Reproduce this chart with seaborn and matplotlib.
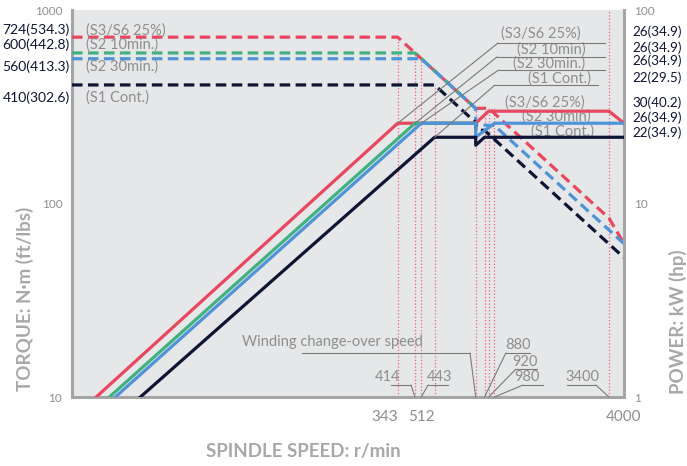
import pandas as pd
import matplotlib
matplotlib.use("Agg")
import matplotlib.pyplot as plt
from matplotlib.ticker import NullLocator
import seaborn as sns

# torque curves, N·m (dashed, left axis)
s3_speed_t = [10, 343, 800, 920, 3400, 4000]
s3_torque = [724, 724, 310, 311, 84, 62]
s2_10_speed_t = [10, 414, 800]
s2_10_torque = [600, 600, 310]
s2_30_speed_t = [10, 443, 800, 800, 980, 4000]
s2_30_torque = [560, 560, 310, 255, 253, 62]
s1_speed_t = [10, 512, 800, 800, 880, 4000]
s1_torque = [410, 410, 262, 239, 239, 52.5]

# power curves, kW (solid, right axis)
s3_speed_p = [13, 343, 800, 920, 3400, 4000]
s3_power = [1, 26, 26, 30, 30, 26]
s2_10_speed_p = [15, 414, 800]
s2_10_power = [1, 26, 26]
s2_30_speed_p = [16, 443, 800, 800, 980, 4000]
s2_30_power = [1, 26, 26, 22, 26, 26]
s1_speed_p = [21, 512, 800, 800, 880, 4000]
s1_power = [1, 22, 22, 20, 22, 22]

# red dotted guide lines
guide_speed = [343, 414, 443, 512, 800, 880, 920, 980, 3400]
guide_top = [724, 600, 560, 410, 310, 311, 311, 311, 1000]

left_labels = ['724(534.3)', '600(442.8)', '560(413.3)', '410(302.6)']
right_labels = ['26(34.9)', '26(34.9)', '26(34.9)', '22(29.5)', '30(40.2)', '26(34.9)', '22(34.9)']

RED = '#e8475e'
GREEN = '#3fb27f'
BLUE = '#4f93d8'
NAVY = '#0e1433'
GRAY_TXT = '#8e8e8e'
LINE_GRAY = '#7a7a7a'

plt.rcParams['font.family'] = ['Lato', 'DejaVu Sans']

fig, ax = plt.subplots(figsize=(6.87, 4.66), dpi=100)
fig.subplots_adjust(left=0.1048, right=0.9083, top=0.9785, bottom=0.148)
ax2 = ax.twinx()
ax.set_facecolor('#e6e7e8')

ax.vlines(guide_speed, 10, guide_top, colors='#f0607a', linestyles=':', linewidth=0.9, zorder=1)

dash = (0, (3.3, 1.7))
torque = [(s3_speed_t, s3_torque, RED), (s2_10_speed_t, s2_10_torque, GREEN),
          (s2_30_speed_t, s2_30_torque, BLUE), (s1_speed_t, s1_torque, NAVY)]
for sp, tq, c in torque:
    df = pd.DataFrame({'speed': sp, 'torque': tq})
    sns.lineplot(data=df, x='speed', y='torque', ax=ax, sort=False, estimator=None,
                 color=c, linewidth=2.3, linestyle=dash, zorder=3)

power = [(s3_speed_p, s3_power, RED), (s2_10_speed_p, s2_10_power, GREEN),
         (s2_30_speed_p, s2_30_power, BLUE), (s1_speed_p, s1_power, NAVY)]
for sp, pw, c in power:
    df = pd.DataFrame({'speed': sp, 'power': pw})
    sns.lineplot(data=df, x='speed', y='power', ax=ax2, sort=False, estimator=None,
                 color=c, linewidth=2.3, zorder=3)

ax.set_xscale('log')
ax.set_yscale('log')
ax2.set_yscale('log')
ax.set_xlim(10, 4000)
ax.set_ylim(10, 1000)
ax2.set_ylim(1, 100)

ax.set_xticks([343, 512, 4000])
ax.set_xticklabels(['343', '512', '4000'])
for lab, ha in zip(ax.get_xticklabels(), ['right', 'right', 'center']):
    lab.set_ha(ha)
ax.xaxis.set_minor_locator(NullLocator())
ax.set_yticks([10, 100, 1000])
ax.set_yticklabels(['10', '100', '1000'])
ax.yaxis.set_minor_locator(NullLocator())
ax2.set_yticks([1, 10, 100])
ax2.set_yticklabels(['1', '10', '100'])
ax2.yaxis.set_minor_locator(NullLocator())
ax.tick_params(axis='x', length=0, pad=9, labelsize=11, labelcolor=GRAY_TXT)
ax.tick_params(axis='y', length=0, pad=7, labelsize=8.5, labelcolor=GRAY_TXT)
ax2.tick_params(axis='y', length=0, pad=7, labelsize=8.5, labelcolor=GRAY_TXT)
ax.set_xlabel('')
ax.set_ylabel('')
ax2.set_ylabel('')

for a in (ax, ax2):
    a.spines['top'].set_visible(False)
    for s in ('left', 'bottom', 'right'):
        a.spines[s].set_color('#a5a5a5')
        a.spines[s].set_linewidth(2.2)
ax.spines['right'].set_visible(False)
ax2.spines['left'].set_visible(False)
ax2.spines['bottom'].set_visible(False)

# labels outside the axes
for lab, fy in zip(left_labels, [0.948, 0.910, 0.853, 0.773]):
    ax.text(-0.004, fy, lab, transform=ax.transAxes, ha='right', va='center',
            fontsize=10, color=NAVY)
for lab, fy in zip(right_labels, [0.943, 0.903, 0.868, 0.824, 0.760, 0.721, 0.682]):
    ax.text(1.0145, fy, lab, transform=ax.transAxes, ha='left', va='center',
            fontsize=9.7, color=NAVY)

# labels inside, left
for lab, fy in zip(['(S3/S6 25%)', '(S2 10min.)', '(S2 30min.)', '(S1 Cont.)'],
                   [0.948, 0.910, 0.853, 0.773]):
    ax.text(0.025, fy, lab, transform=ax.transAxes, ha='left', va='center',
            fontsize=10.5, color=GRAY_TXT)

# labels inside, lower right
for lab, fx, fy in zip(['(S3/S6 25%)', '(S2 30min)', '(S1 Cont.)'],
                       [0.857, 0.877, 0.888], [0.760, 0.724, 0.685]):
    ax.text(fx, fy, lab, transform=ax.transAxes, ha='center', va='center',
            fontsize=10.5, color=GRAY_TXT)


def callout(text, txy, x0, x1, yline, target, anchor_left=True, size=10.5):
    ax.text(txy[0], txy[1], text, transform=ax.transAxes, ha='center', va='center',
            fontsize=size, color=GRAY_TXT)
    ax2.plot([x0, x1], [yline, yline], transform=ax2.transAxes, color=LINE_GRAY,
             lw=0.8, clip_on=False)
    start = (x0 if anchor_left else x1, yline)
    ax2.annotate('', xy=target, xycoords='data', xytext=start, textcoords='axes fraction',
                 arrowprops=dict(arrowstyle='-', color=LINE_GRAY, lw=0.8, shrinkA=0, shrinkB=0))


# corner callouts (upper)
callout('(S3/S6 25%)', (0.850, 0.940), 0.772, 0.966, 0.915, (343, 26))
callout('(S2 10min)', (0.868, 0.897), 0.770, 0.966, 0.879, (414, 26))
callout('(S2 30min.)', (0.864, 0.862), 0.773, 0.966, 0.845, (443, 26))
callout('(S1 Cont.)', (0.883, 0.822), 0.766, 0.953, 0.806, (512, 22))

# speed callouts (bottom)
callout('880', (0.808, 0.134), 0.786, 0.830, 0.114, (880, 1))
callout('920', (0.821, 0.090), 0.804, 0.842, 0.072, (920, 1))
callout('980', (0.824, 0.052), 0.817, 0.853, 0.031, (980, 1))
callout('414', (0.572, 0.052), 0.578, 0.614, 0.031, (414, 1), anchor_left=False)
callout('443', (0.665, 0.052), 0.645, 0.681, 0.031, (443, 1))
callout('3400', (0.924, 0.052), 0.897, 0.949, 0.031, (3400, 1), anchor_left=False)
ax.text(0.308, 0.142, 'Winding change-over speed', transform=ax.transAxes, ha='left',
        va='center', fontsize=10.5, color=GRAY_TXT)
ax2.plot([0.417, 0.721], [0.114, 0.114], transform=ax2.transAxes, color=LINE_GRAY, lw=0.8)
ax2.annotate('', xy=(800, 1), xycoords='data', xytext=(0.721, 0.114), textcoords='axes fraction',
             arrowprops=dict(arrowstyle='-', color=LINE_GRAY, lw=0.8, shrinkA=0, shrinkB=0))

# axis titles
fig.text(25 / 687, 1 - 299 / 466, 'TORQUE: N·m (ft/lbs)', rotation=90, ha='center', va='center',
         fontsize=13.5, fontweight='bold', color='#a8a8a8')
fig.text(678 / 687, 1 - 322 / 466, 'POWER: kW (hp)', rotation=90, ha='center', va='center',
         fontsize=13.5, fontweight='bold', color='#a8a8a8')
fig.text(303 / 687, 1 - 452 / 466, 'SPINDLE SPEED: r/min', ha='center', va='center',
         fontsize=13.5, fontweight='bold', color='#a8a8a8')

fig.savefig('out.png', dpi=100)
